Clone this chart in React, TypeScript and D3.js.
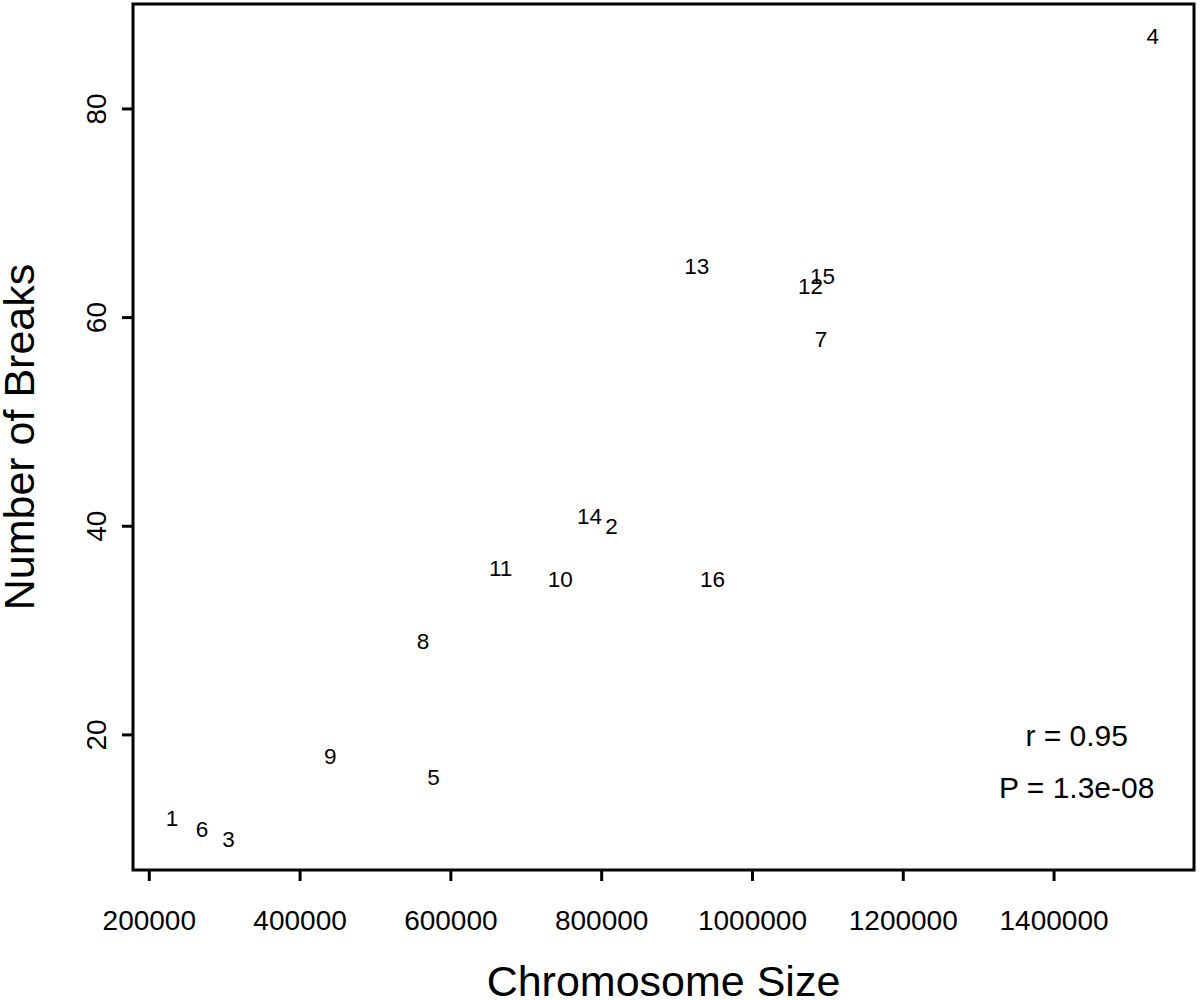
import React from "react";
import * as d3 from "d3";

const chromosomes = ["1", "2", "3", "4", "5", "6", "7", "8", "9", "10", "11", "12", "13", "14", "15", "16"];
const sizes = [230000, 813000, 305000, 1531000, 577000, 270000, 1091000, 563000, 440000, 745000, 666000, 1077000, 926000, 784000, 1093000, 947000];
const breaks = [12, 40, 10, 87, 16, 11, 58, 29, 18, 35, 36, 63, 65, 41, 64, 35];
const xTicks = [200000, 400000, 600000, 800000, 1000000, 1200000, 1400000];
const yTicks = [20, 40, 60, 80];
const statX = 1430000;
const statLines = [
  { y: 20, text: "r = 0.95" },
  { y: 15, text: "P = 1.3e-08" },
];

const FONT = "'Liberation Sans', Arial, Helvetica, sans-serif";

export default function App() {
  const W = 1200, H = 1000;
  const left = 133, right = 1194, top = 4, bottom = 870;
  const x = d3.scaleLinear().domain([178400, 1585600]).range([left, right]);
  const y = d3.scaleLinear().domain([7.05, 90.06]).range([bottom, top]);
  return (
    <svg width={W} height={H} style={{ position: "absolute", left: 0, top: 0, background: "#fff" }}>
      <rect x={0} y={0} width={W} height={H} fill="#fff" />
      <rect x={left} y={top} width={right - left} height={bottom - top} fill="none" stroke="#000" strokeWidth={3} />
      {xTicks.map((t) => (
        <g key={"x" + t}>
          <line x1={x(t)} x2={x(t)} y1={bottom} y2={bottom + 11} stroke="#000" strokeWidth={3} />
          <text x={x(t)} y={930} textAnchor="middle" fontFamily={FONT} fontSize={28} fill="#000">{t}</text>
        </g>
      ))}
      {yTicks.map((t) => (
        <g key={"y" + t}>
          <line x1={left} x2={left - 11} y1={y(t)} y2={y(t)} stroke="#000" strokeWidth={3} />
          <text transform={`translate(106,${y(t)}) rotate(-90)`} textAnchor="middle" fontFamily={FONT} fontSize={28} fill="#000">{t}</text>
        </g>
      ))}
      {chromosomes.map((c, i) => (
        <text key={c} x={x(sizes[i])} y={y(breaks[i])} dy="0.36em" textAnchor="middle" fontFamily={FONT} fontSize={22.5} fill="#000">{c}</text>
      ))}
      {statLines.map((s) => (
        <text key={s.text} x={x(statX)} y={y(s.y)} dy="0.36em" textAnchor="middle" fontFamily={FONT} fontSize={30} fill="#000">{s.text}</text>
      ))}
      <text x={(left + right) / 2} y={996} textAnchor="middle" fontFamily={FONT} fontSize={43} fill="#000">Chromosome Size</text>
      <text transform={`translate(34,${(top + bottom) / 2}) rotate(-90)`} textAnchor="middle" fontFamily={FONT} fontSize={43} fill="#000">Number of Breaks</text>
    </svg>
  );
}
